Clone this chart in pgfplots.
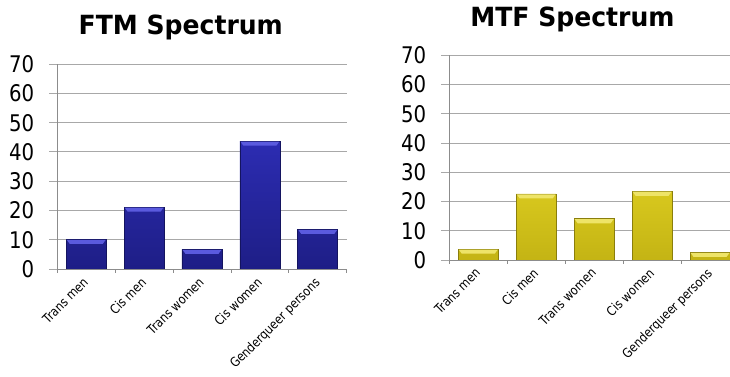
\documentclass[border=0pt]{standalone}
\usepackage{fontspec}
\usepackage{pgfplots}
\pgfplotsset{compat=1.18}
\setmainfont{DejaVu Sans}
\newfontfamily\tahoma[FakeStretch=0.86]{DejaVu Sans}
\newfontfamily\titlefont[FakeStretch=0.95]{DejaVu Sans}

\definecolor{gridgray}{HTML}{A8A8A8}
\definecolor{axisgray}{HTML}{8C8C8C}
% blue bars
\definecolor{bluetop}{HTML}{2C2CB2}
\definecolor{bluebot}{HTML}{1E1E86}
\definecolor{blueedge}{HTML}{141460}
\definecolor{bluebevel}{HTML}{5A5ADE}
% yellow bars
\definecolor{yeltop}{HTML}{D8C81E}
\definecolor{yelbot}{HTML}{C4B414}
\definecolor{yeledge}{HTML}{8A7E0C}
\definecolor{yelbevel}{HTML}{EEE468}

% light strip along the top of each bar
\pgfdeclareplotmark{bevel}{%
  \pgfpathmoveto{\pgfpoint{-19.5bp}{-0.4bp}}%
  \pgfpathlineto{\pgfpoint{19.5bp}{-0.4bp}}%
  \pgfpathlineto{\pgfpoint{16.5bp}{-4.5bp}}%
  \pgfpathlineto{\pgfpoint{-16.5bp}{-4.5bp}}%
  \pgfpathclose
  \pgfusepathqfill}

\pgfplotstableread{
x    ftm   mtf
0.5  10.2  3.7
1.5  21.2  22.6
2.5  6.8   14.1
3.5  43.7  23.5
4.5  13.6  2.6
}\spectrum

\pgfplotsset{
  spectrum/.style={
    scale only axis,
    xmin=0, xmax=5, ymin=0, ymax=70,
    ytick={0,10,...,70},
    xtick={0.5,1.5,2.5,3.5,4.5},
    xticklabels={Trans men,Cis men,Trans women,Cis women,Genderqueer persons},
    minor xtick={0,1,2,3,4,5},
    major tick length=8bp, minor tick length=3.5bp,
    tick align=outside,
    x axis line style={draw=none},
    axis x line*=bottom, axis y line*=left,
    y axis line style={draw=axisgray, line width=0.9bp},
    major x tick style={draw=none},
    minor x tick style={draw=axisgray, line width=0.8bp},
    major y tick style={draw=gridgray, line width=1bp},
    ymajorgrids, major grid style={draw=gridgray, line width=1bp},
    /pgf/number format/assume math mode=true,
    yticklabel style={font=\tahoma\fontsize{23}{23}\selectfont, xshift=-15bp, inner sep=0pt},
    xticklabel style={font=\tahoma\fontsize{13}{13}\selectfont, inner sep=0pt,
      xshift=-4bp, yshift=1bp, rotate=45, anchor=north east},
    axis on top=false,
    clip=false,
  },
}

\begin{document}
\begin{tikzpicture}
\useasboundingbox (0,0) rectangle (730bp,-377bp);
\clip (0,0) rectangle (730bp,-377bp);

\node[anchor=base, font=\titlefont\bfseries\fontsize{26.5}{26.5}\selectfont]
  at (180.8bp,-34bp) {FTM Spectrum};
\node[anchor=base, font=\titlefont\bfseries\fontsize{26.5}{26.5}\selectfont]
  at (572.5bp,-26bp) {MTF Spectrum};

% FTM
\begin{axis}[spectrum, at={(57.3bp,-269.3bp)}, anchor=south west,
  width=289.4bp, height=205.3bp]
  \addplot[ybar, bar width=40bp, bar shift=0pt, draw=blueedge, line width=0.6bp,
    top color=bluetop, bottom color=bluebot]
    table[x=x, y=ftm] {\spectrum};
  \addplot[only marks, mark=bevel, mark options={fill=bluebevel, draw=none}]
    table[x=x, y=ftm] {\spectrum};
  \draw[axisgray, line width=0.9bp] (axis cs:0,0) -- (axis cs:5,0);
\end{axis}

% MTF
\begin{axis}[spectrum, at={(449.3bp,-260bp)}, anchor=south west,
  width=289.7bp, height=204.7bp]
  \addplot[ybar, bar width=40bp, bar shift=0pt, draw=yeledge, line width=0.6bp,
    top color=yeltop, bottom color=yelbot]
    table[x=x, y=mtf] {\spectrum};
  \addplot[only marks, mark=bevel, mark options={fill=yelbevel, draw=none}]
    table[x=x, y=mtf] {\spectrum};
  \draw[axisgray, line width=0.9bp] (axis cs:0,0) -- (axis cs:5,0);
\end{axis}
\end{tikzpicture}
\end{document}
